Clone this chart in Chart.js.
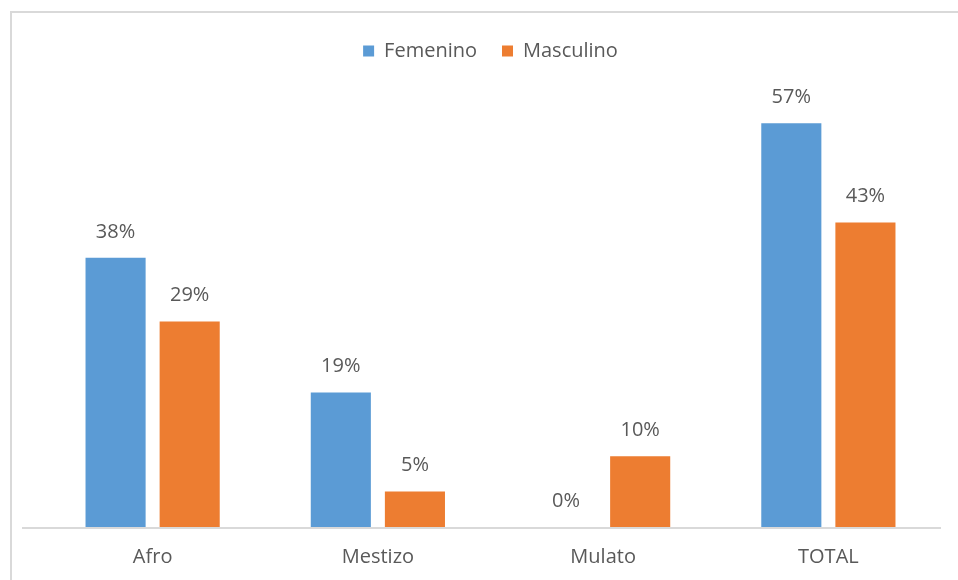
<!DOCTYPE html>
<html>
<head>
<meta charset="utf-8">
<script src="https://cdn.jsdelivr.net/npm/chart.js@4.4.1/dist/chart.umd.min.js"></script>
<style>
    html, body { margin: 0; padding: 0; background: #fff; }
    body { width: 958px; height: 580px; position: relative; overflow: hidden; }
    #frame { position: absolute; left: 10px; top: 11px; width: 960px; height: 600px; border-top: 2px solid #d9d9d9; border-left: 2px solid #d9d9d9; }
    #wrap { position: absolute; left: 20px; top: 0; width: 938px; height: 587px; }
</style>
</head>
<body>
<div id="frame"></div>
<div id="wrap"><canvas id="chart"></canvas></div>
<script>
const categories = ['Afro', 'Mestizo', 'Mulato', 'TOTAL'];
const femenino = [38, 19, 0, 57];
const masculino = [29, 5, 10, 43];

const textColor = '#595959';
const fontFamily = '"Open Sans", "Liberation Sans", sans-serif';

// etiquetas de valor encima de cada barra
const valueLabels = {
    id: 'valueLabels',
    afterDatasetsDraw(chart) {
        const ctx = chart.ctx;
        ctx.save();
        ctx.fillStyle = textColor;
        ctx.font = '20px ' + fontFamily;
        ctx.textAlign = 'center';
        ctx.textBaseline = 'middle';
        chart.data.datasets.forEach((ds, i) => {
            chart.getDatasetMeta(i).data.forEach((bar, j) => {
                ctx.fillText(ds.data[j] + '%', bar.x, bar.y - 26);
            });
        });
        ctx.restore();
    }
};

// linea base del eje, un poco mas larga a la izquierda como en el original
const baseLine = {
    id: 'baseLine',
    beforeDatasetsDraw(chart) {
        const ctx = chart.ctx;
        const y = chart.scales.y.getPixelForValue(0);
        ctx.save();
        ctx.strokeStyle = '#d9d9d9';
        ctx.lineWidth = 2;
        ctx.beginPath();
        ctx.moveTo(2, y + 1);
        ctx.lineTo(chart.chartArea.right, y + 1);
        ctx.stroke();
        ctx.restore();
    }
};

// espacio extra debajo de la leyenda
const legendGap = {
    id: 'legendGap',
    beforeInit(chart) {
        const fit = chart.legend.fit;
        chart.legend.fit = function () {
            fit.bind(chart.legend)();
            this.height += 31;
        };
    }
};

new Chart(document.getElementById('chart'), {
    type: 'bar',
    data: {
        labels: categories,
        datasets: [
            { label: 'Femenino', data: femenino, backgroundColor: '#5b9bd5' },
            { label: 'Masculino', data: masculino, backgroundColor: '#ed7d31' }
        ]
    },
    options: {
        responsive: true,
        maintainAspectRatio: false,
        animation: false,
        layout: { padding: { top: 16, left: 20, right: 17, bottom: 0 } },
        datasets: { bar: { categoryPercentage: 0.658, barPercentage: 0.811 } },
        scales: {
            x: {
                grid: { display: false, drawTicks: false },
                border: { display: false },
                ticks: { color: textColor, font: { size: 20, family: fontFamily }, padding: 18 }
            },
            y: {
                display: false,
                min: 0,
                max: 60
            }
        },
        plugins: {
            legend: {
                position: 'top',
                labels: {
                    boxWidth: 11,
                    boxHeight: 11,
                    color: textColor,
                    font: { size: 20, family: fontFamily },
                    padding: 25
                }
            },
            tooltip: { enabled: false }
        }
    },
    plugins: [valueLabels, baseLine, legendGap]
});
</script>
</body>
</html>
